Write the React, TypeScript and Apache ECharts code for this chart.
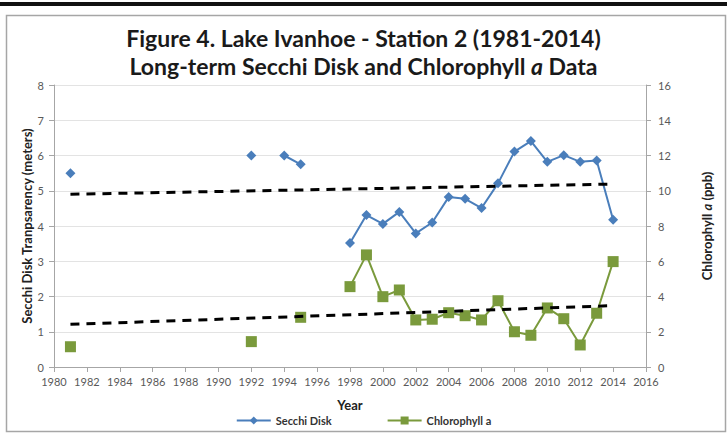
import React, { useEffect, useRef } from "react";
import * as echarts from "echarts";

const secchiYears = [1981, 1992, 1994, 1995, 1998, 1999, 2000, 2001, 2002, 2003, 2004, 2005, 2006, 2007, 2008, 2009, 2010, 2011, 2012, 2013, 2014];
const secchiValues = [5.5, 6.0, 6.0, 5.75, 3.52, 4.31, 4.06, 4.4, 3.79, 4.1, 4.82, 4.77, 4.51, 5.21, 6.11, 6.41, 5.82, 6.01, 5.82, 5.86, 4.18];
// segment breaks: new segment starts at these years
const secchiBreaksBefore = [1992, 1994, 1998];

const chlYears = [1981, 1992, 1995, 1998, 1999, 2000, 2001, 2002, 2003, 2004, 2005, 2006, 2007, 2008, 2009, 2010, 2011, 2012, 2013, 2014];
const chlValues = [1.15, 1.44, 2.82, 4.56, 6.36, 3.99, 4.37, 2.67, 2.71, 3.08, 2.91, 2.67, 3.76, 2.0, 1.8, 3.35, 2.74, 1.25, 3.05, 5.98];
const chlBreaksBefore = [1992, 1995, 1998];

const trendYears = [1981, 2014];
const secchiTrend = [4.9, 5.19];
const chlTrend = [2.42, 3.48];

const xTicks = { min: 1980, max: 2016, interval: 2 };
const leftTicks = { min: 0, max: 8, interval: 1 };
const rightTicks = { min: 0, max: 16, interval: 2 };

function withBreaks(years: number[], values: number[], breaks: number[]) {
  const out: any[] = [];
  years.forEach((y, i) => {
    if (breaks.includes(y)) out.push([y - 0.5, "-"]);
    out.push([y, values[i]]);
  });
  return out;
}

const FONT = "Lato";
const LABEL = "#595959";

export default function App() {
  const ref = useRef<HTMLDivElement>(null);
  useEffect(() => {
    const chart = echarts.init(ref.current!, null, { renderer: "svg" });
    chart.setOption({
      animation: false,
      backgroundColor: "#ffffff",
      textStyle: { fontFamily: FONT },
      graphic: [
        { type: "rect", shape: { x: 0, y: 2, width: 727, height: 4 }, style: { fill: "#111" }, silent: true },
        { type: "rect", shape: { x: 6.5, y: 15.5, width: 719, height: 416 }, style: { fill: "none", stroke: "#a6a6a6", lineWidth: 1.5 }, silent: true },
        {
          type: "text", left: "center", top: 26,
          style: { text: "Figure 4. Lake Ivanhoe - Station 2 (1981-2014)", font: `bold 23px "${FONT}"`, fill: "#1a1a1a" },
        },
        {
          type: "text", left: "center", top: 54,
          style: {
            text: "{n|Long-term Secchi Disk and Chlorophyll }{i|a}{n| Data}",
            rich: {
              n: { font: `bold 23px "${FONT}"`, fill: "#1a1a1a" },
              i: { font: `italic bold 23px "${FONT}"`, fill: "#1a1a1a" },
            },
          },
        },
      ],
      grid: { left: 54, right: 81, top: 85, bottom: 66 },
      legend: {
        bottom: 2,
        left: "center",
        itemWidth: 34,
        itemHeight: 10,
        itemGap: 55,
        textStyle: { fontFamily: FONT, fontWeight: "bold", fontSize: 11, color: "#333" },
        data: ["Secchi Disk", "Chlorophyll a"],
      },
      xAxis: {
        type: "value",
        ...xTicks,
        name: "Year",
        nameLocation: "middle",
        nameGap: 31,
        nameTextStyle: { fontFamily: FONT, fontWeight: "bold", fontSize: 13, color: "#222" },
        axisLine: { show: true, lineStyle: { color: "#a6a6a6" } },
        axisTick: { show: true, length: 5, lineStyle: { color: "#a6a6a6" } },
        axisLabel: { color: LABEL, fontSize: 11, fontFamily: FONT, margin: 9, formatter: (v: number) => String(v) },
        splitLine: { show: false },
      },
      yAxis: [
        {
          type: "value",
          ...leftTicks,
          name: "Secchi Disk Tranpsarency (meters)",
          nameLocation: "middle",
          nameGap: 21,
          nameMoveOverlap: false,
          nameTextStyle: { fontFamily: FONT, fontWeight: "bold", fontSize: 13, color: "#222" },
          axisLine: { show: true, lineStyle: { color: "#a6a6a6" } },
          axisTick: { show: true, length: 5, lineStyle: { color: "#a6a6a6" } },
          axisLabel: { color: LABEL, fontSize: 11, fontFamily: FONT, margin: 10 },
          splitLine: { show: true, lineStyle: { color: "#e3e3e3" } },
        },
        {
          type: "value",
          ...rightTicks,
          position: "right",
          name: "{n|Chlorophyll }{i|a}{n| (ppb)}",
          nameLocation: "middle",
          nameGap: 54,
          nameRotate: 90,
          nameTextStyle: {
            rich: {
              n: { fontFamily: FONT, fontWeight: "bold", fontSize: 13, color: "#222" },
              i: { fontFamily: FONT, fontWeight: "bold", fontStyle: "italic", fontSize: 13, color: "#222" },
            },
          },
          axisLine: { show: true, lineStyle: { color: "#a6a6a6" } },
          axisTick: { show: true, length: 5, lineStyle: { color: "#a6a6a6" } },
          axisLabel: { color: LABEL, fontSize: 11, fontFamily: FONT, margin: 12 },
          splitLine: { show: false },
        },
      ],
      series: [
        {
          name: "Secchi Disk",
          type: "line",
          yAxisIndex: 0,
          data: withBreaks(secchiYears, secchiValues, secchiBreaksBefore),
          connectNulls: false,
          symbol: "diamond",
          symbolSize: 10,
          lineStyle: { color: "#4a7ebb", width: 2 },
          itemStyle: { color: "#4a7ebb" },
          z: 3,
        },
        {
          name: "Chlorophyll a",
          type: "line",
          yAxisIndex: 1,
          data: withBreaks(chlYears, chlValues, chlBreaksBefore),
          connectNulls: false,
          symbol: "rect",
          symbolSize: 11,
          lineStyle: { color: "#7a9a3c", width: 2 },
          itemStyle: { color: "#7a9a3c" },
          z: 3,
        },
        {
          name: "Secchi trend",
          type: "line",
          yAxisIndex: 0,
          data: trendYears.map((y, i) => [y, secchiTrend[i]]),
          symbol: "none",
          lineStyle: { color: "#000", width: 3, type: [9, 7] },
          z: 4,
        },
        {
          name: "Chl trend",
          type: "line",
          yAxisIndex: 1,
          data: trendYears.map((y, i) => [y, chlTrend[i]]),
          symbol: "none",
          lineStyle: { color: "#000", width: 3, type: [9, 7] },
          z: 4,
        },
      ],
    });
    return () => chart.dispose();
  }, []);
  return <div ref={ref} style={{ position: "fixed", left: 0, top: 0, width: 727, height: 433 }} />;
}
